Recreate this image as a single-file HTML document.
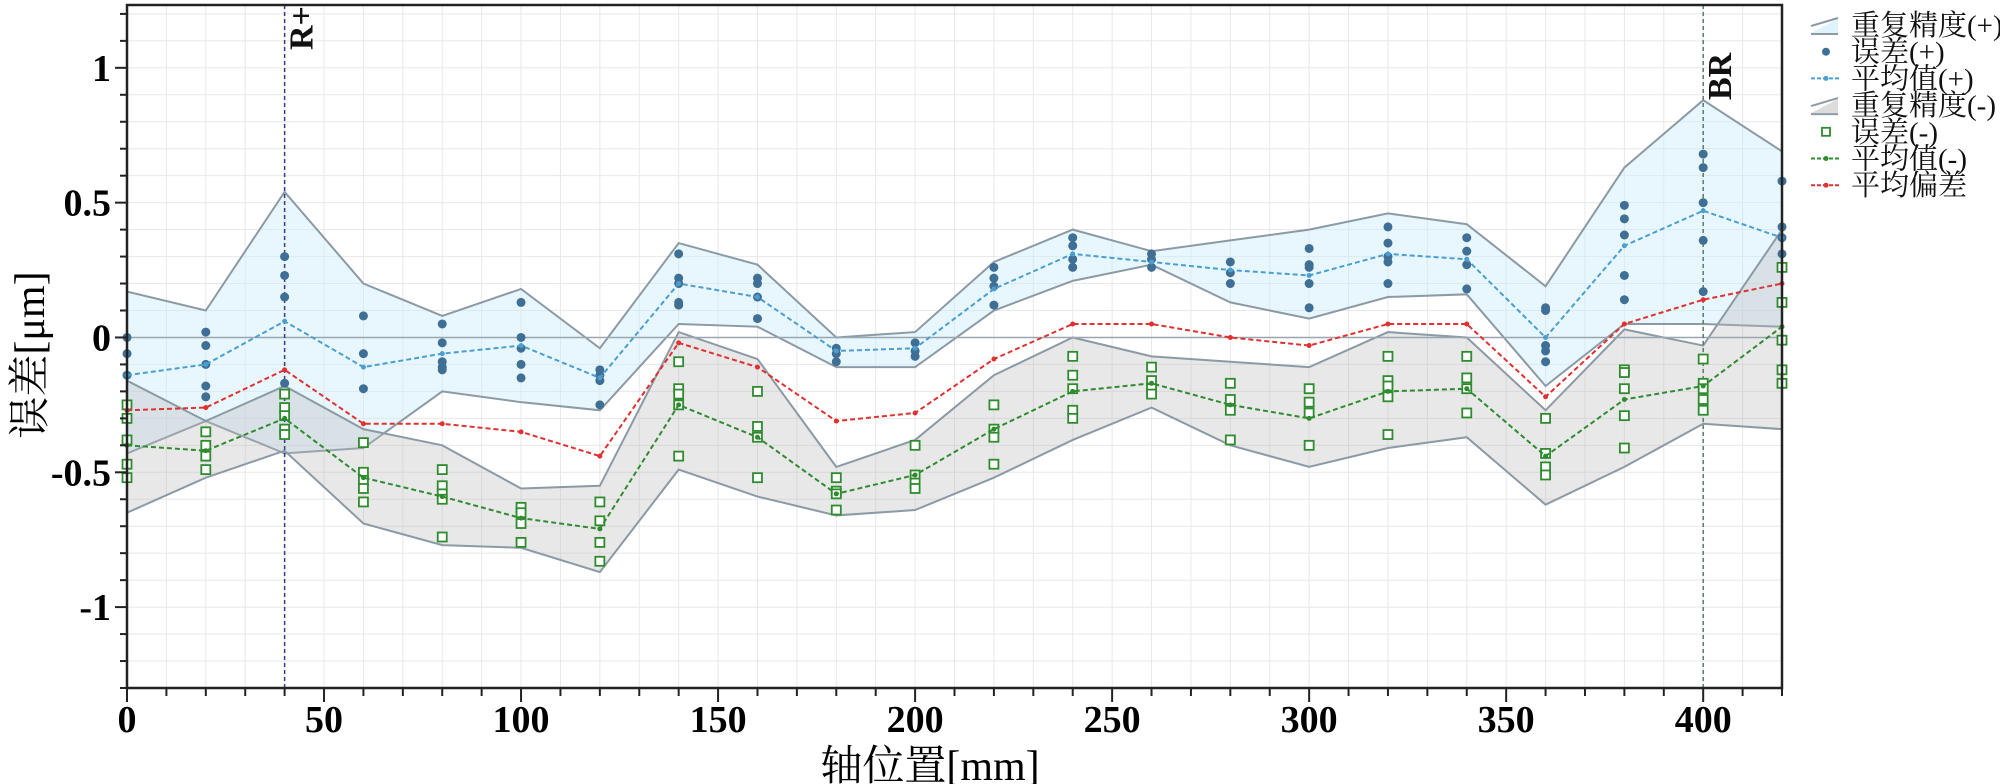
<!DOCTYPE html>
<html><head><meta charset="utf-8">
<style>
html,body{margin:0;padding:0;background:#fff;}
svg{display:block;font-family:"Liberation Serif","Noto Serif CJK SC",serif;}
</style></head>
<body>
<svg id="chart" width="2000" height="784" viewBox="0 0 2000 784" xmlns="http://www.w3.org/2000/svg">
<g id="grid"></g>
<g id="series"></g>
<g id="axes"></g>
<text x="930" y="780" text-anchor="middle" font-size="42" fill="#000">轴位置[mm]</text>
<text transform="translate(44,355) rotate(-90)" text-anchor="middle" font-size="42" fill="#000">误差[μm]</text>
<g id="legend"></g>
</svg>
<script>
const xPos=[0,20,40,60,80,100,120,140,160,180,200,220,240,260,280,300,320,340,360,380,400,420];
const repPlusTop=[0.17,0.10,0.54,0.20,0.08,0.18,-0.04,0.35,0.27,0.0,0.02,0.28,0.40,0.32,0.36,0.40,0.46,0.42,0.19,0.63,0.88,0.69];
const repPlusBot=[-0.43,-0.31,-0.43,-0.41,-0.20,-0.24,-0.27,0.05,0.04,-0.11,-0.11,0.10,0.21,0.27,0.13,0.07,0.15,0.16,-0.18,0.05,0.05,0.04];
const meanPlus=[-0.14,-0.10,0.06,-0.11,-0.06,-0.03,-0.15,0.20,0.15,-0.05,-0.04,0.18,0.31,0.28,0.25,0.23,0.31,0.29,0.0,0.34,0.47,0.37];
const errPlus=[[0,-0.06,-0.14,-0.38],[0.02,-0.03,-0.10,-0.18,-0.22],[0.30,0.23,0.15,-0.17],[0.08,-0.06,-0.19],[0.05,-0.02,-0.09,-0.11,-0.12],[0.13,0,-0.04,-0.10,-0.15],[-0.12,-0.14,-0.16,-0.25],[0.31,0.22,0.20,0.13,0.12],[0.22,0.20,0.15,0.07],[-0.04,-0.06,-0.09],[-0.02,-0.05,-0.07],[0.26,0.22,0.19,0.12],[0.37,0.34,0.29,0.26],[0.31,0.29,0.26],[0.28,0.24,0.20],[0.33,0.27,0.26,0.20,0.11],[0.41,0.35,0.30,0.28,0.20],[0.37,0.32,0.27,0.18],[0.11,0.10,-0.03,-0.05,-0.09],[0.49,0.44,0.38,0.23,0.14],[0.68,0.63,0.50,0.36,0.17],[0.58,0.41,0.37,0.31,0.26]];
const repMinusTop=[-0.16,-0.31,-0.18,-0.34,-0.40,-0.56,-0.55,0.02,-0.08,-0.48,-0.38,-0.14,0.0,-0.07,-0.09,-0.11,0.02,0.0,-0.27,0.03,-0.03,0.40];
const repMinusBot=[-0.65,-0.52,-0.42,-0.69,-0.77,-0.78,-0.87,-0.49,-0.59,-0.66,-0.64,-0.52,-0.38,-0.26,-0.40,-0.48,-0.41,-0.37,-0.62,-0.48,-0.32,-0.34];
const meanMinus=[-0.40,-0.42,-0.30,-0.52,-0.59,-0.67,-0.71,-0.25,-0.37,-0.58,-0.51,-0.34,-0.20,-0.17,-0.25,-0.30,-0.20,-0.19,-0.44,-0.23,-0.18,0.04];
const errMinus=[[-0.25,-0.30,-0.38,-0.47,-0.52],[-0.35,-0.40,-0.44,-0.49],[-0.21,-0.26,-0.29,-0.34,-0.36],[-0.39,-0.50,-0.53,-0.56,-0.61],[-0.49,-0.55,-0.58,-0.60,-0.74],[-0.63,-0.65,-0.69,-0.76],[-0.61,-0.68,-0.76,-0.83],[-0.09,-0.19,-0.21,-0.25,-0.44],[-0.20,-0.33,-0.37,-0.52],[-0.52,-0.57,-0.58,-0.64],[-0.40,-0.51,-0.54,-0.56],[-0.25,-0.34,-0.37,-0.47],[-0.07,-0.14,-0.19,-0.27,-0.30],[-0.11,-0.16,-0.19,-0.21],[-0.17,-0.23,-0.27,-0.38],[-0.19,-0.24,-0.28,-0.40],[-0.07,-0.16,-0.18,-0.22,-0.36],[-0.07,-0.15,-0.19,-0.28],[-0.30,-0.43,-0.48,-0.51],[-0.12,-0.13,-0.19,-0.29,-0.41],[-0.08,-0.17,-0.19,-0.23,-0.27],[-0.01,-0.12,-0.17,0.13,0.26]];
const meanDev=[-0.27,-0.26,-0.12,-0.32,-0.32,-0.35,-0.44,-0.02,-0.11,-0.31,-0.28,-0.08,0.05,0.05,0.0,-0.03,0.05,0.05,-0.22,0.05,0.14,0.20];
const xTicks=[0,50,100,150,200,250,300,350,400];
const yTicks=[-1,-0.5,0,0.5,1];
const yTickLabels=["-1","-0.5","0","0.5","1"];
const refLines=[{x:40,label:"R+",color:"#3a3a8a"},{x:400,label:"BR",color:"#5a7a6a"}];

const L=127,R=1782,T=5,B=688;
const X0=0,X1=420,Y0=-1.3,Y1=1.233;
const sx=v=>L+(v-X0)/(X1-X0)*(R-L);
const sy=v=>B-(v-Y0)/(Y1-Y0)*(B-T);
const NS="http://www.w3.org/2000/svg";
function mk(tag,attrs,parent){const e=document.createElementNS(NS,tag);for(const k in attrs)e.setAttribute(k,attrs[k]);parent.appendChild(e);return e;}
const grid=document.getElementById('grid'),ser=document.getElementById('series'),axes=document.getElementById('axes'),leg=document.getElementById('legend');

mk('rect',{x:L,y:T,width:R-L,height:B-T,fill:'#fff'},grid);
for(let v=0;v<=420;v+=10){const g=mk('line',{x1:sx(v),x2:sx(v),y1:T,y2:B,stroke:'#e8e8e8','stroke-width':1},grid);

}
for(let i=-13;i<=12;i++){const v=i/10;const g=mk('line',{x1:L,x2:R,y1:sy(v),y2:sy(v),stroke:'#e8e8e8','stroke-width':1},grid);

}

function band(top,bot,fill,name){
 let d='M'+xPos.map((x,i)=>sx(x)+','+sy(top[i])).join('L')+'L'+xPos.map((x,i)=>sx(x)+','+sy(bot[i])).reverse().join('L')+'Z';
 const p=mk('path',{d:d,fill:fill,stroke:'none'},ser);
 
 
 [top,bot].forEach((arr,j)=>{const l=mk('polyline',{points:xPos.map((x,i)=>sx(x)+','+sy(arr[i])).join(' '),fill:'none',stroke:'#8c9aa6','stroke-width':2},ser);
 
 });
}
band(repPlusTop,repPlusBot,'rgba(205,238,250,0.45)','repeat-band-plus');
band(repMinusTop,repMinusBot,'rgba(185,185,185,0.33)','repeat-band-minus');

const zl=mk('line',{x1:L,x2:R,y1:sy(0),y2:sy(0),stroke:'#9aa6b0','stroke-width':1.5},ser);



refLines.forEach(r=>{const l=mk('line',{x1:sx(r.x),x2:sx(r.x),y1:T,y2:B,stroke:r.color,'stroke-width':1.5,'stroke-dasharray':'4,3'},ser);


const t=mk('text',{transform:'translate('+(sx(r.x)+28)+','+(r.label==='BR'?100:50)+') rotate(-90)','font-size':34,'font-weight':'bold',fill:'#111'},ser);t.textContent=r.label;

});

function meanLine(arr,color,name){
 const l=mk('polyline',{points:xPos.map((x,i)=>sx(x)+','+sy(arr[i])).join(' '),fill:'none',stroke:color,'stroke-width':2,'stroke-dasharray':'5,3'},ser);
 
 
 xPos.forEach((x,i)=>{const c=mk('circle',{cx:sx(x),cy:sy(arr[i]),r:2.5,fill:color},ser);
 
 });
}
errPlus.forEach((vals,i)=>vals.forEach(v=>{const c=mk('circle',{cx:sx(xPos[i]),cy:sy(v),r:4.5,fill:'#3f6f95'},ser);

}));
errMinus.forEach((vals,i)=>vals.forEach(v=>{const s=mk('rect',{x:sx(xPos[i])-4.5,y:sy(v)-4.5,width:9,height:9,fill:'#fff',stroke:'#2e8b2e','stroke-width':1.8},ser);

}));
meanLine(meanPlus,'#4a9fd0','mean-plus-line');
meanLine(meanMinus,'#2e8b2e','mean-minus-line');
meanLine(meanDev,'#e03030','mean-deviation-line');

const fr=mk('rect',{x:L,y:T,width:R-L,height:B-T,fill:'none',stroke:'#222','stroke-width':2.5},axes);


for(let v=0;v<=420;v+=10){const len=v%50===0?14:8;const t=mk('line',{x1:sx(v),x2:sx(v),y1:B,y2:B+len,stroke:'#222','stroke-width':2},axes);

}
for(let i=-13;i<=12;i++){const v=i/10;const len=(i%5===0)?12:7;const t=mk('line',{x1:L-len,x2:L,y1:sy(v),y2:sy(v),stroke:'#222','stroke-width':2},axes);

}
xTicks.forEach(v=>{const t=mk('text',{x:sx(v),y:732,'text-anchor':'middle','font-size':38,'font-weight':'bold',fill:'#000'},axes);t.textContent=String(v);

});
yTicks.forEach((v,i)=>{const t=mk('text',{x:L-16,y:sy(v)+13,'text-anchor':'end','font-size':38,'font-weight':'bold',fill:'#000'},axes);t.textContent=yTickLabels[i];

});

const legItems=[["重复精度(+)","bandp"],["误差(+)","dot"],["平均值(+)","mp"],["重复精度(-)","bandm"],["误差(-)","sq"],["平均值(-)","mm"],["平均偏差","md"]];
legItems.forEach((it,i)=>{const cy=25+i*26.7;const g=mk('g',{},leg);


const k=it[1];
if(k==='bandp'||k==='bandm'){mk('path',{d:`M1811,${cy+8}L1838,${cy-6}L1838,${cy+8}Z`,fill:k==='bandp'?'rgba(200,235,250,0.6)':'rgba(185,185,185,0.5)'},g);
mk('line',{x1:1811,y1:cy+1,x2:1838,y2:cy-7,stroke:'#8c9aa6','stroke-width':2},g);mk('line',{x1:1811,y1:cy+9,x2:1838,y2:cy+9,stroke:'#8c9aa6','stroke-width':2},g);}
else if(k==='dot'){mk('circle',{cx:1826,cy:cy,r:4,fill:'#3f6f95'},g);}
else if(k==='sq'){mk('rect',{x:1822,y:cy-4,width:8,height:8,fill:'#fff',stroke:'#2e8b2e','stroke-width':1.8},g);}
else{const c=k==='mp'?'#4a9fd0':k==='mm'?'#2e8b2e':'#e03030';mk('line',{x1:1811,x2:1840,y1:cy,y2:cy,stroke:c,'stroke-width':2,'stroke-dasharray':'4,2'},g);mk('circle',{cx:1826,cy:cy,r:2.5,fill:c},g);}
const t=mk('text',{x:1851,y:cy+10,'font-size':29,fill:'#111'},g);t.textContent=it[0];});
</script>
</body></html>
